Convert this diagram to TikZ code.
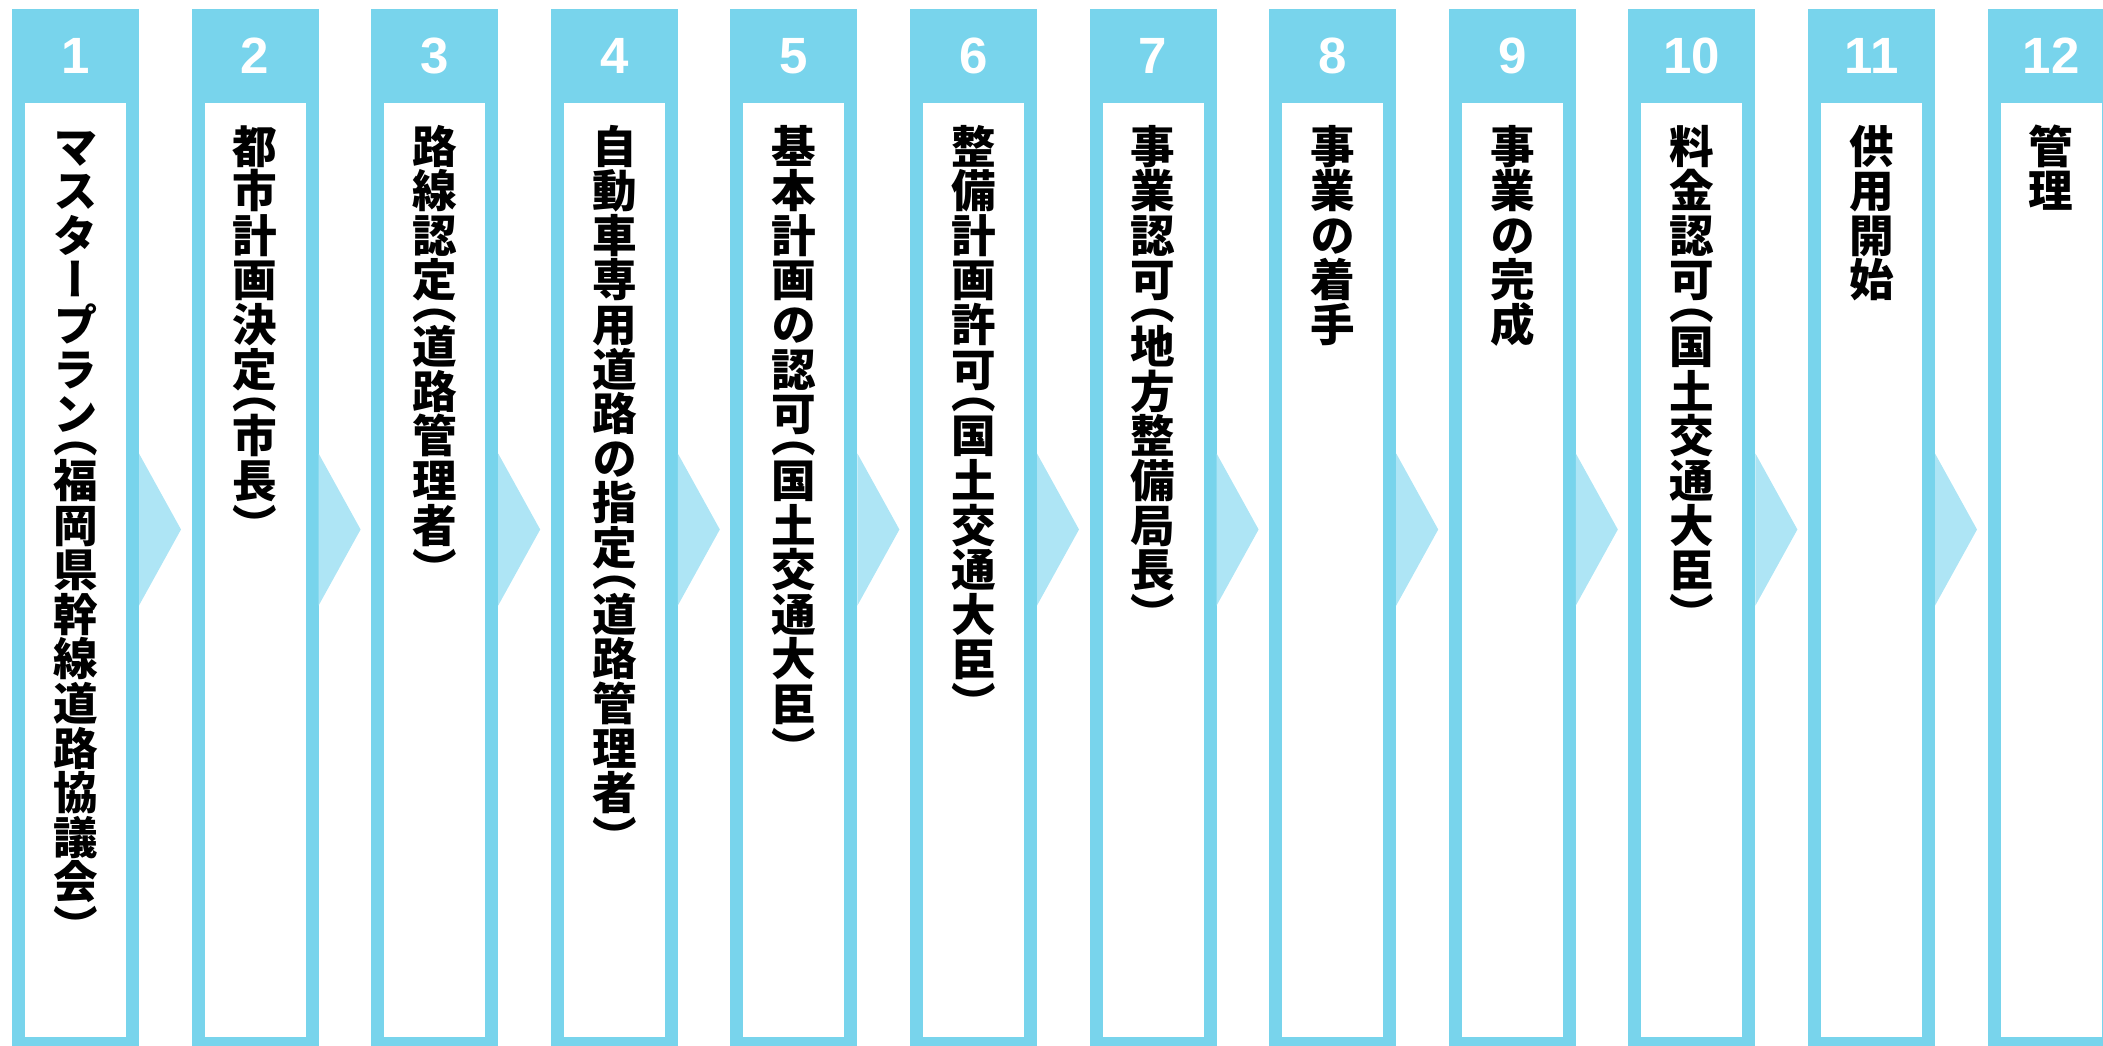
\documentclass[tikz,border=0pt]{standalone}
\usepackage{fontspec}
\setmainfont{Liberation Sans}
\newfontfamily\jpfont[RawFeature=+vert]{Noto Sans CJK JP}
\usetikzlibrary{positioning}

\definecolor{stepblue}{RGB}{120,212,236}
\definecolor{arrowblue}{RGB}{174,229,245}

\makeatletter
\newlength\tateem
\def\tateopen{（}
\def\tateclose{）}
% one character per line, brackets take half a line
\newcommand{\tatechar}{%
	\ifx\tc\tateopen
		\setbox0\hbox to\tateem{\hss\tc\hss}\ht0=.38\tateem\dp0=.12\tateem
	\else\ifx\tc\tateclose
		\setbox0\hbox to\tateem{\hss\lower.5\tateem\hbox{\tc}\hss}\ht0=.38\tateem\dp0=.12\tateem
	\else
		\setbox0\hbox to\tateem{\hss\tc\hss}\ht0=.88\tateem\dp0=.12\tateem
	\fi\fi
	\box0}
\def\tateloop#1{\ifx#1\@nil\else\def\tc{#1}\tatechar\expandafter\tateloop\fi}
\newcommand{\tate}[1]{\vbox{\offinterlineskip\tateem=1em\edef\tatelist{#1}\expandafter\tateloop\tatelist\@nil}}
\makeatother

\begin{document}
\begin{tikzpicture}[x=0.5pt,y=-0.5pt,
		colbox/.style={draw=stepblue,line width=6.5pt,fill=white,minimum width=57pt,minimum height=514pt,inner sep=0pt},
		headbox/.style={fill=stepblue,minimum width=63.5pt,minimum height=47pt,inner sep=0pt,text=white,font=\bfseries\fontsize{25.5pt}{25.5pt}\selectfont},
		stepname/.style={inner sep=0pt,anchor=north,font=\jpfont\bfseries\fontsize{22.3pt}{22.3pt}\selectfont}]
	\useasboundingbox (0,0) rectangle (2103,1045);
	\clip (0,0) rectangle (2103,1045);
	\foreach \txt [count=\n] in {マスタープラン（福岡県幹線道路協議会）,都市計画決定（市長）,路線認定（道路管理者）,自動車専用道路の指定（道路管理者）,基本計画の認可（国土交通大臣）,整備計画許可（国土交通大臣）,事業認可（地方整備局長）,事業の着手,事業の完成,料金認可（国土交通大臣）,供用開始,管理}{
		\node[colbox] (col\n) at ({75.5+179.6*(\n-1)},529.5) {};
		\node[headbox] (head\n) at ({75.5+179.6*(\n-1)},56) {\n};
		\node[stepname,below=10pt of head\n] (name\n) {\tate{\txt}};
		\ifnum\n<12
			\fill[arrowblue] ([yshift=38pt]col\n.east) -- ([xshift=21pt]col\n.east) -- ([yshift=-38pt]col\n.east) -- cycle;
		\fi
	}
\end{tikzpicture}
\end{document}
